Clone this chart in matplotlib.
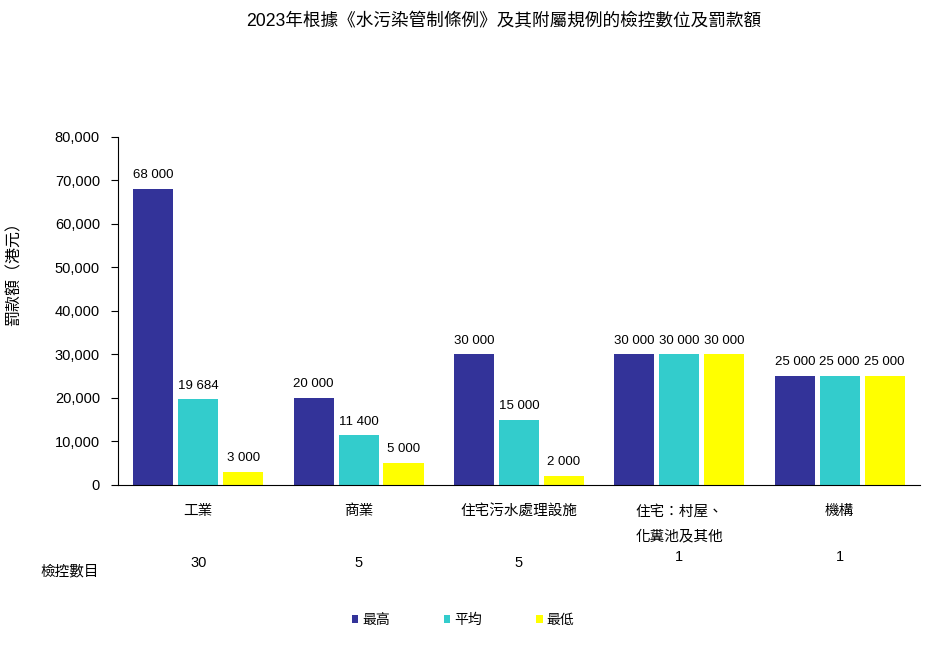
import matplotlib.pyplot as plt
import matplotlib.ticker as mticker
import numpy as np

plt.rcParams['font.family'] = ['Liberation Sans', 'Noto Sans CJK TC', 'DejaVu Sans']

categories = ['工業', '商業', '住宅污水處理設施', '住宅：村屋、\n化糞池及其他', '機構']
highest = [68000, 20000, 30000, 30000, 25000]
average = [19684, 11400, 15000, 30000, 25000]
lowest = [3000, 5000, 2000, 30000, 25000]
counts = ['30', '5', '5', '1', '1']
series_names = ['最高', '平均', '最低']
colors = ['#333399', '#33CCCC', '#FFFF00']

fig = plt.figure(figsize=(9.32, 6.47), dpi=100)
ax = fig.add_axes([0.1266, 0.2504, 0.8604, 0.5379])

x = np.arange(len(categories))
w = 0.25
gap = 0.03
for i, (vals, c, name) in enumerate(zip([highest, average, lowest], colors, series_names)):
    pos = x + (i - 1) * (w + gap)
    ax.bar(pos, vals, width=w, color=c, label=name)
    for px, v in zip(pos, vals):
        ax.text(px, v + 1800, f'{v:,}'.replace(',', ' '), ha='center', va='bottom', fontsize=9.5)

ax.set_xlim(-0.5, len(categories) - 0.5)
ax.set_ylim(0, 80000)
ax.yaxis.set_major_locator(mticker.MultipleLocator(10000))
ax.yaxis.set_major_formatter(mticker.FuncFormatter(lambda v, p: f'{int(v):,}'))
ax.tick_params(axis='y', labelsize=10.5, length=5, direction='out', pad=8)
ax.set_xticks(x)
ax.set_xticklabels(categories, fontsize=10.5, linespacing=2.0, va='top')
ax.tick_params(axis='x', length=0, pad=14)
for s in ['top', 'right']:
    ax.spines[s].set_visible(False)

# y axis title
fig.text(14 / 932, 1 - 270 / 647, '罰款額（港元）', rotation=90, ha='center', va='center', fontsize=11.5)

# inspection counts row
fig.text(70 / 932, 1 - 571 / 647, '檢控數目', ha='center', va='center', fontsize=10.5)
count_y = [563, 563, 563, 557, 557]
for xi, c, cy in zip(x, counts, count_y):
    xf = ax.transData.transform((xi, 0))[0] / fig.bbox.width
    fig.text(xf, 1 - cy / 647, c, ha='center', va='center', fontsize=10.5)

fig.suptitle('2023年根據《水污染管制條例》及其附屬規例的檢控數位及罰款額', y=1 - 22 / 647,
             va='center', x=504 / 932, fontsize=12.7)

fig.legend(loc='center', bbox_to_anchor=(463 / 932, 1 - 620 / 647), ncol=3, frameon=False,
           fontsize=10, handlelength=0.45, handleheight=0.45, handletextpad=0.3, columnspacing=3.9)

fig.savefig('out.png', dpi=100)
